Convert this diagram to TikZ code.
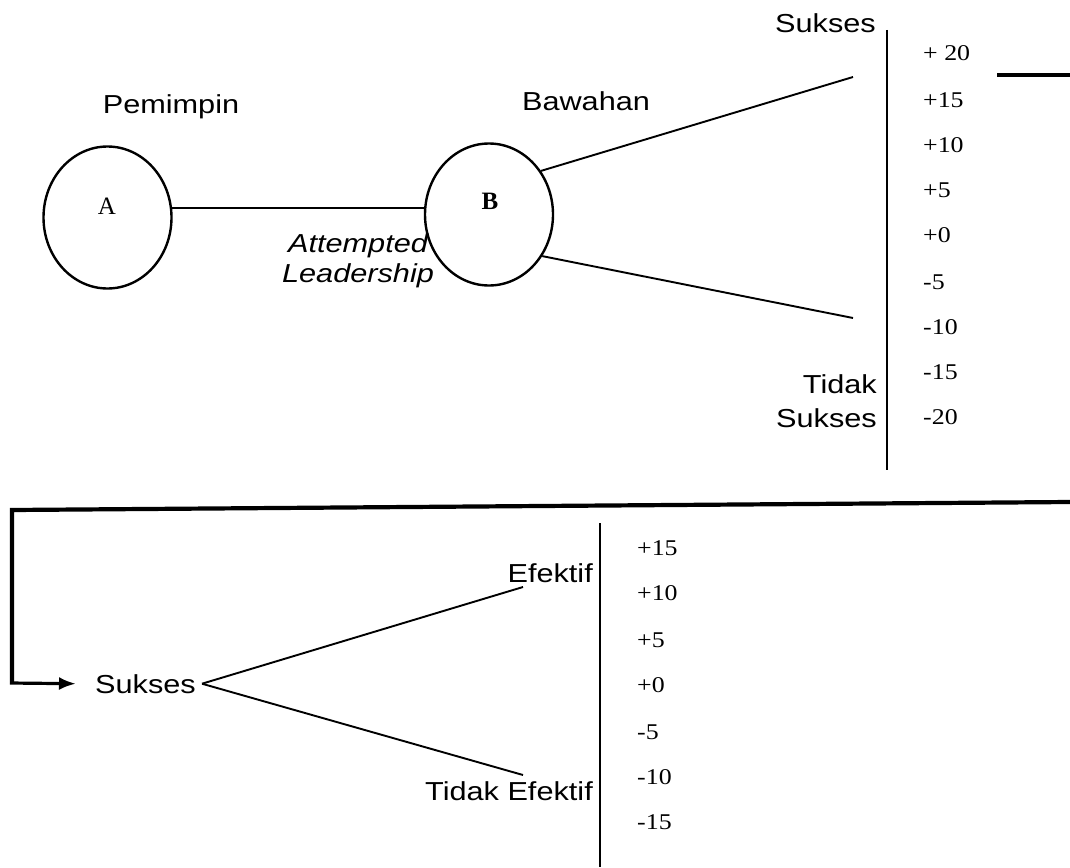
\documentclass[tikz,border=0pt]{standalone}
\usepackage{fontspec}
\usepackage{graphicx}
\setmainfont{Liberation Serif}
\setsansfont{Liberation Sans}
\usetikzlibrary{shapes.geometric,arrows.meta}
% slightly widened lettering
\newcommand\wsf[1]{\scalebox{1.18}[1]{#1}}
\newcommand\wrm[1]{\scalebox{1.15}[1]{#1}}
\tikzset{
  sanslbl/.style={font=\sffamily\fontsize{26}{34}\selectfont, inner sep=0pt},
  numlbl/.style={font=\rmfamily\fontsize{22.5}{26}\selectfont, inner sep=0pt, anchor=west},
  circ/.style={ellipse, draw, line width=2.4pt, minimum width=128pt, minimum height=142pt, inner sep=0pt},
  letter/.style={font=\rmfamily\fontsize{25}{28}\selectfont, inner sep=0pt},
  thinline/.style={line width=1.9pt},
  axisline/.style={line width=2.4pt},
  loopline/.style={line width=4.2pt},
}
\begin{document}
\begin{tikzpicture}[x=1pt, y=-1pt]
\useasboundingbox (0,0) rectangle (1070,867);

% leader and subordinate
\node[circ] (A) at (107.5,217.5) {};
\node[circ] (B) at (489,214.5) {};
\node[letter] (Alab) at (107,206) {A};
\node[letter, font=\rmfamily\bfseries\fontsize{25}{28}\selectfont] (Blab) at (490,201) {B};
\node[sanslbl, anchor=base] (pem) at (171,113) {\wsf{Pemimpin}};
\node[sanslbl, anchor=base] (baw) at (586,110) {\wsf{Bawahan}};
\node[sanslbl, font=\sffamily\itshape\fontsize{26}{30}\selectfont, align=center, anchor=north]
  (att) at (358,233) {\wsf{Attempted}\\\wsf{Leadership}};

\draw[thinline] (A.8) -- (A.8 -| B.west);

% first outcome scale
\coordinate (axT) at (887,30);
\coordinate (axB) at (887,470);
\draw[axisline] (axT) -- (axB);
\coordinate (up1) at (853,77);
\coordinate (dn1) at (853,318);
\draw[thinline] (B.40) -- (up1);
\draw[thinline] (B.-38) -- (dn1);
\node[sanslbl, anchor=base east] (suk1) at (876,33) {\wsf{Sukses}};
\node[sanslbl, align=right, anchor=north east] (tsuk) at (877,374) {\wsf{Tidak}\\\wsf{Sukses}};
\foreach \t/\y/\k in {{+ 20}/53/1, +15/100/2, +10/145/3, +5/190/4, +0/235/5, -5/282/6, -10/327/7, -15/372/8, -20/417/9}
  \node[numlbl] (n\k) at (923,\y) {\wrm{\t}};

% connector from the first scale to the second stage
\coordinate (stubL) at (997,75);
\coordinate (stubR) at (1070,75);
\draw[line width=3.5pt] (stubL) -- (stubR);
\coordinate (loopR) at (1070,502);
\coordinate (loopL) at (12,510);
\node[sanslbl, anchor=base west] (suk2) at (95,693) {\wsf{Sukses}};
\draw[loopline] (loopR) -- (loopL) -- (12,683);
\draw[line width=3.2pt, -{Latex[length=17pt,width=13pt]}] (10,683) -- ([xshift=-19pt]suk2.west);

% second outcome scale
\coordinate (axT2) at (600,523);
\coordinate (axB2) at (600,867);
\draw[axisline] (axT2) -- (axB2);
\coordinate (up2) at (523,587);
\coordinate (dn2) at (523,775);
\draw[thinline] ([xshift=6pt]suk2.east) -- (up2);
\draw[thinline] ([xshift=6pt]suk2.east) -- (dn2);
\node[sanslbl, anchor=base east] (ef) at (593,582) {\wsf{Efektif}};
\node[sanslbl, anchor=base east] (tef) at (593,800) {\wsf{Tidak Efektif}};
\foreach \t/\y/\k in {+15/548/1, +10/593/2, +5/640/3, +0/685/4, -5/732/5, -10/777/6, -15/822/7}
  \node[numlbl] (m\k) at (637,\y) {\wrm{\t}};
\end{tikzpicture}
\end{document}
